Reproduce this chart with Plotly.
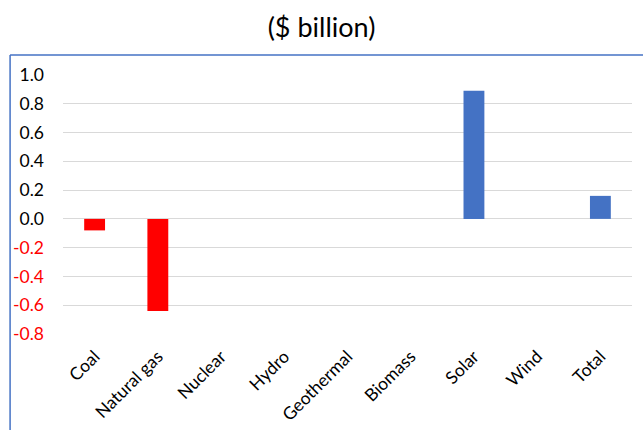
import plotly.graph_objects as go

# Change in value by generation source ($ billion)
categories = ["Coal", "Natural gas", "Nuclear", "Hydro", "Geothermal",
              "Biomass", "Solar", "Wind", "Total"]
values = [-0.08, -0.64, 0.0, 0.0, 0.0, 0.0, 0.89, 0.0, 0.16]

tick_vals = [1.0, 0.8, 0.6, 0.4, 0.2, 0.0, -0.2, -0.4, -0.6, -0.8]

POS = "#4472C4"
NEG = "#FF0000"
bar_colors = [NEG if v < 0 else POS for v in values]
tick_text = [
    f'<span style="color:{NEG}">{v:.1f}</span>' if v < 0 else f"{v:.1f}"
    for v in tick_vals
]

fig = go.Figure(
    go.Bar(x=categories, y=values, marker=dict(color=bar_colors, line=dict(width=0)),
           width=0.33)
)

fig.update_layout(
    width=643, height=430,
    margin=dict(l=63, r=11, t=75, b=96),
    paper_bgcolor="white", plot_bgcolor="white",
    font=dict(family="Lato, 'Open Sans', sans-serif", size=15, color="#000000"),
    title=dict(text="($ billion)", x=0.5, xanchor="center", y=0.935, yanchor="middle",
               font=dict(size=27, color="#000000")),
    showlegend=False,
    bargap=0.67,
)

fig.update_xaxes(tickangle=-45, showgrid=False, showline=False, ticks="",
                 automargin=False, ticklabelstandoff=8, tickfont=dict(size=17.5))
fig.update_yaxes(range=[-0.8, 1.0], tickvals=tick_vals, ticktext=tick_text,
                 showgrid=True, gridcolor="#D9D9D9", gridwidth=1,
                 zeroline=True, zerolinecolor="#D9D9D9", zerolinewidth=1,
                 showline=False, ticks="", automargin=False, ticklabelstandoff=18,
                 tickfont=dict(size=17.5))

# Chart frame: top and left border lines
frame = "#4472C4"
fig.add_shape(type="line", xref="paper", yref="paper",
              x0=-0.093, x1=1.03, y0=1.077, y1=1.077,
              line=dict(color=frame, width=1.5))
fig.add_shape(type="line", xref="paper", yref="paper",
              x0=-0.093, x1=-0.093, y0=1.077, y1=-0.4,
              line=dict(color=frame, width=1.5))

fig.write_html("out.html")
